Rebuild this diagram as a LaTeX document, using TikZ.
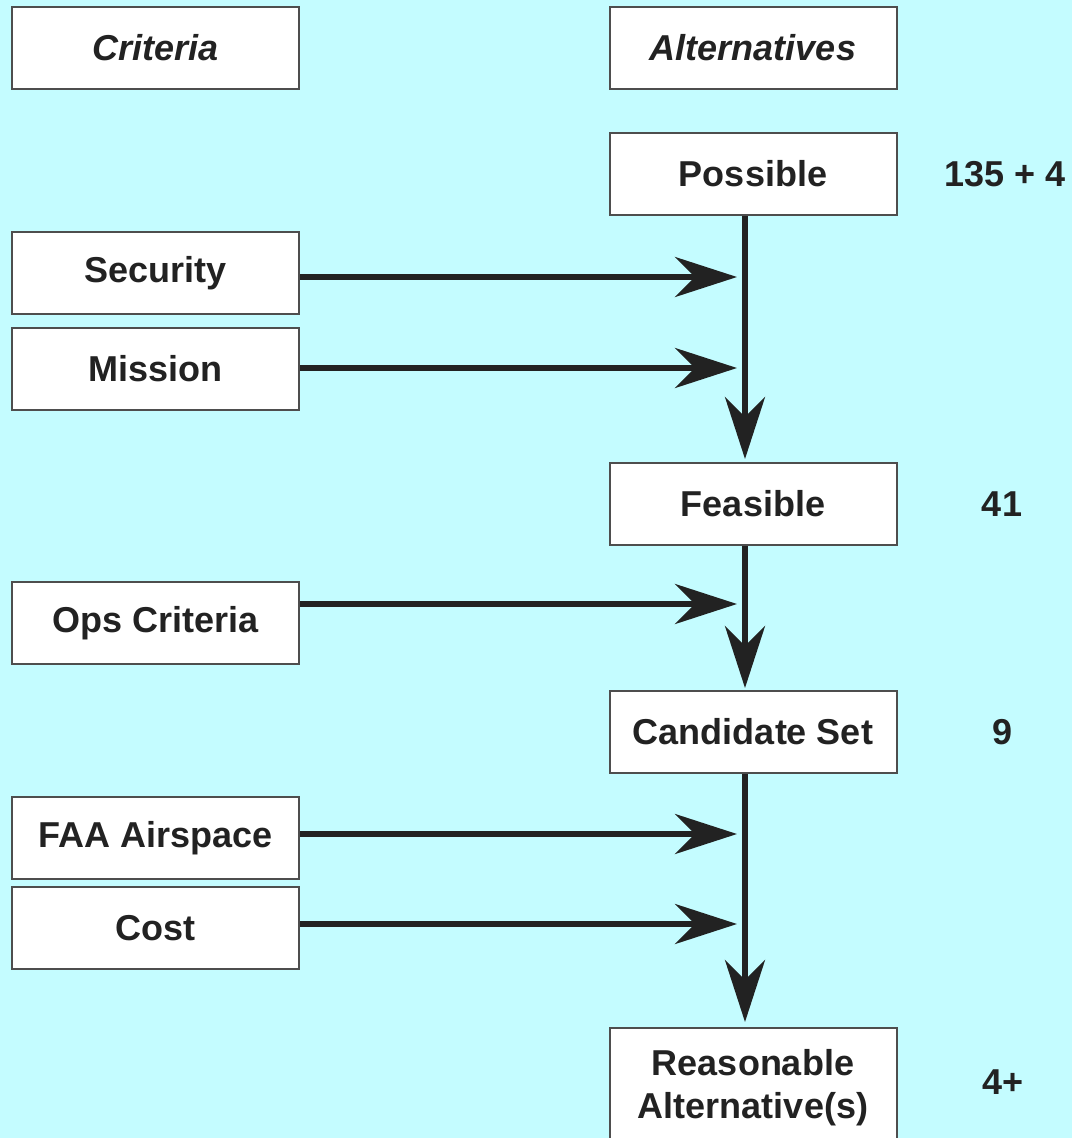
\documentclass[tikz,border=0pt]{standalone}
\usepackage{fontspec}
\setmainfont{Liberation Sans}
\usetikzlibrary{arrows.meta}
\definecolor{bgc}{HTML}{C4FCFF}
\definecolor{ink}{HTML}{222222}
\begin{document}
\begin{tikzpicture}[x=1pt,y=-1pt,
  box/.style={draw=ink!80, line width=2pt, fill=white, minimum width=287pt, minimum height=82pt, inner sep=0pt, font=\fontsize{36}{40}\selectfont\bfseries, text=ink, align=center},
  num/.style={font=\fontsize{36}{40}\selectfont\bfseries, text=ink},
  arr/.style={draw=ink, line width=6pt, -{Stealth[length=62pt,width=40pt,inset=20pt]}}]
\fill[bgc] (0,0) rectangle (1072,1138);
\useasboundingbox (0,0) rectangle (1072,1138);
\node[box] (crit) at (155.5,48) {\itshape Criteria};
\node[box] (alt) at (753,48) {\itshape Alternatives};
\node[box] (poss) at (753,174) {Possible};
\node[box] (sec) at (155.5,273) {Security};
\node[box] (mis) at (155.5,369) {Mission};
\node[box] (feas) at (753,504) {Feasible};
\node[box] (ops) at (155.5,623) {Ops Criteria};
\node[box] (cand) at (753,732) {Candidate Set};
\node[box] (faa) at (155.5,838) {FAA Airspace};
\node[box] (cost) at (155.5,928) {Cost};
\node[box, minimum height=123pt, anchor=north, font=\fontsize{36}{43}\selectfont\bfseries, text depth=12pt] (reas) at (753,1027) {Reasonable\\Alternative(s)};
\node[num] (n1) at (1005,174) {135 + 4};
\node[num] (n2) at (1002,504) {41};
\node[num] (n3) at (1002,732) {9};
\node[num] (n4) at (1003,1082) {4+};
\coordinate (t1) at (737,277);
\coordinate (t2) at (737,368);
\coordinate (t3) at (737,604);
\coordinate (t4) at (737,834);
\coordinate (t5) at (737,924);
\coordinate (v1) at (745,459);
\coordinate (v2) at (745,688);
\coordinate (v3) at (745,1022);
\draw[arr] (sec.east |- t1) -- (t1);
\draw[arr] (mis.east |- t2) -- (t2);
\draw[arr] (ops.east |- t3) -- (t3);
\draw[arr] (faa.east |- t4) -- (t4);
\draw[arr] (cost.east |- t5) -- (t5);
\draw[arr] (poss.south -| v1) -- (v1);
\draw[arr] (feas.south -| v2) -- (v2);
\draw[arr] (cand.south -| v3) -- (v3);
\end{tikzpicture}
\end{document}
